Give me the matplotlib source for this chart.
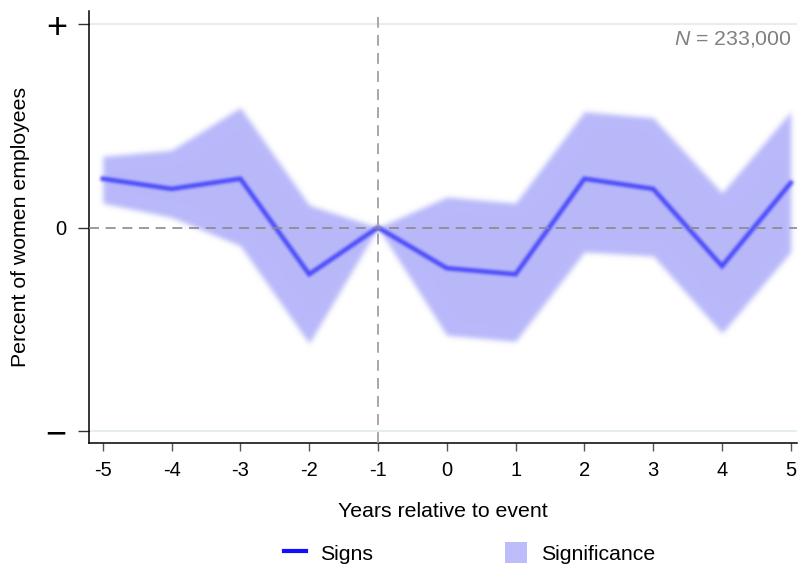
import numpy as np
import matplotlib
matplotlib.use("Agg")
import matplotlib.pyplot as plt
from matplotlib.lines import Line2D
from matplotlib.patches import Patch

plt.rcParams["font.family"] = ["Liberation Sans", "DejaVu Sans"]
plt.rcParams["mathtext.fontset"] = "custom"
plt.rcParams["mathtext.it"] = "Liberation Sans:italic"
plt.rcParams["mathtext.rm"] = "Liberation Sans"

# Event-study estimates
years = [-5, -4, -3, -2, -1, 0, 1, 2, 3, 4, 5]
estimate = [0.24, 0.19, 0.24, -0.23, 0.0, -0.20, -0.23, 0.24, 0.19, -0.19, 0.22]
ci_upper = [0.35, 0.38, 0.59, 0.11, 0.0, 0.15, 0.12, 0.57, 0.54, 0.17, 0.57]
ci_lower = [0.12, 0.05, -0.09, -0.57, 0.0, -0.53, -0.56, -0.12, -0.14, -0.52, -0.12]
y_ticks = [-1, 0, 1]
y_tick_labels = ["\u2212", "0", "+"]
n_obs_label = "$N$ = 233,000"


def gaussian_blur(sigma):
    """Agg filter that softens an artist with a Gaussian kernel."""
    def _filter(im, dpi):
        s = sigma * dpi / 72.0
        pad = int(3 * s) + 2
        img = np.pad(im, ((pad, pad), (pad, pad), (0, 0)))
        a = img[..., 3:4]
        pm = np.concatenate([img[..., :3] * a, a], axis=2)
        r = np.arange(-pad, pad + 1)
        k = np.exp(-0.5 * (r / s) ** 2)
        k /= k.sum()
        for axis in (0, 1):
            out = np.zeros_like(pm)
            for off, w in zip(r, k):
                out += w * np.roll(pm, off, axis=axis)
            pm = out
        alpha = pm[..., 3:4]
        rgb = np.where(alpha > 1e-6, pm[..., :3] / np.maximum(alpha, 1e-6), 0)
        return np.concatenate([np.clip(rgb, 0, 1), alpha], axis=2), -pad, -pad
    return _filter


fig = plt.figure(figsize=(7.99, 5.71), dpi=100)
ax = fig.add_axes([89 / 799, 1 - 443 / 571, 708 / 799, 432 / 571])

band = ax.fill_between(years, ci_lower, ci_upper, color="#b9b9fb", linewidth=0, zorder=2)
band.set_agg_filter(gaussian_blur(1.3))
line, = ax.plot(years, estimate, color="#4848fb", lw=3.2, zorder=3,
                solid_joinstyle="miter")
line.set_agg_filter(gaussian_blur(1.0))

for yv in (-1, 1):
    ax.axhline(yv, color="#e6edf1", lw=1.4, zorder=1)
ax.axhline(0, color="#8a8a8a", lw=1.2, ls=(0, (6, 4)), zorder=4)
ax.axvline(-1, color="#a0a0a0", lw=1.3, ls=(0, (6, 4)), zorder=4)

ax.set_xlim(-5.2, 5.09)
ax.set_ylim(-1.06, 1.065)
ax.set_xticks(years)
ax.set_xticklabels([str(v) for v in years], fontsize=14.5)
ax.set_yticks(y_ticks)
ax.set_yticklabels(y_tick_labels)
for lab, fs in zip(ax.get_yticklabels(), [26, 14.5, 26]):
    lab.set_fontsize(fs)
ax.tick_params(axis="x", direction="out", length=6, width=1, color="#555555", pad=7)
ax.tick_params(axis="y", direction="out", length=8, width=1, color="#333333", pad=8)

for side in ("top", "right"):
    ax.spines[side].set_visible(False)
for side in ("left", "bottom"):
    ax.spines[side].set_linewidth(1.1)

ax.set_xlabel("Years relative to event", fontsize=15.3, labelpad=16)
ax.set_ylabel("Percent of women employees", fontsize=15.3, labelpad=11)

ax.text(0.993, 0.935, n_obs_label, transform=ax.transAxes, ha="right", va="center",
        fontsize=15.3, color="#808080")

handles = [Line2D([], [], color="#1010ff", lw=3),
           Patch(facecolor="#bdbdfb", edgecolor="none")]
fig.legend(handles, ["Signs", "Significance"], loc="center",
           bbox_to_anchor=(470 / 799, 1 - 553 / 571), ncol=2, frameon=False,
           fontsize=15.3, handlelength=1.0, handleheight=1.1, handletextpad=0.7,
           columnspacing=6.2)

fig.savefig("out.png", dpi=100)
